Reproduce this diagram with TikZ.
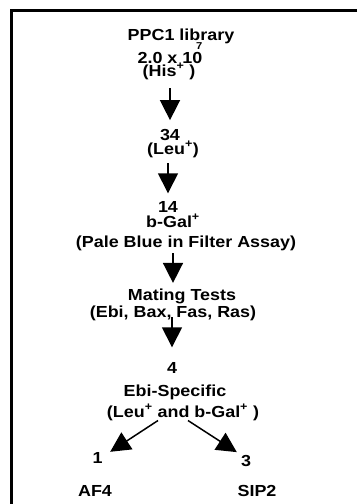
\documentclass[tikz,border=0pt]{standalone}
\usepackage{fontspec}
\setmainfont[FakeStretch=1.12]{Liberation Sans}
\usetikzlibrary{arrows.meta}
\tikzset{
  lbl/.style={anchor=base,inner sep=0pt,font=\fontsize{16}{18}\selectfont\bfseries},
  flow/.style={-{Triangle[length=20pt,width=20pt]},line width=1.5pt},
}
\newcommand{\up}[1]{\textsuperscript{#1}}

\begin{document}
\begin{tikzpicture}[x=1pt,y=-1pt]
  \useasboundingbox (0,0) rectangle (357,504);
  % helper grid: comment for final drawing
  % \draw[help lines,step=10] (0,0) grid (357,504);
  \draw[line width=3pt] (357,10.5) -- (11,10.5) -- (11,504);
  \node[lbl] (lib)      at (181,40)  {PPC1 library};
  \node[lbl] (titer)    at (170,63)  {2.0 x 10\llap{\raisebox{14pt}{\fontsize{10}{10}\selectfont 7}}};
  \node[lbl] (his)      at (169,76)  {(His\up{+} )};
  \node[lbl] (n34)      at (170,140) {34};
  \node[lbl] (leu)      at (173,154) {(Leu\up{+})};
  \node[lbl] (n14)      at (168,212) {14};
  \node[lbl] (bgal)     at (173,227) {b-Gal\up{+}};
  \node[lbl] (pale)     at (186,247) {(Pale Blue in Filter Assay)};
  \node[lbl] (mating)   at (182,300) {Mating Tests};
  \node[lbl] (partners) at (173,317) {(Ebi, Bax, Fas, Ras)};
  \node[lbl] (n4)       at (172,373) {4};
  \node[lbl] (ebi)      at (175,396) {Ebi-Specific};
  \node[lbl] (leugal)   at (183,417) {(Leu\up{+} and b-Gal\up{+} )};
  \node[lbl] (n1)       at (97.5,463) {1};
  \node[lbl] (n3)       at (246,466) {3};
  \node[lbl] (af4)      at (95,496)  {AF4};
  \node[lbl] (sip2)     at (257,496) {SIP2};
  \draw[flow,shorten <=8.6pt,shorten >=8.5pt] (n34.north |- his.south) -- (n34.north);
  \draw[flow,shorten <=5.6pt,shorten >=7.5pt] (n14.north |- leu.south) -- (n14.north);
  \draw[flow,shorten <=2.6pt,shorten >=5.3pt] (partners.north |- pale.south) -- (partners.north |- mating.north);
  \draw[flow,shorten <=-3.4pt,shorten >=14.5pt] (n4.north |- partners.south) -- (n4.north);
  \draw[flow] ([xshift=-25pt]leugal.south) -- ([xshift=7.5pt]n1.north east);
  \draw[flow] ([xshift=5pt]leugal.south) -- ([xshift=-4pt,yshift=2.5pt]n3.north west);
\end{tikzpicture}
\end{document}
